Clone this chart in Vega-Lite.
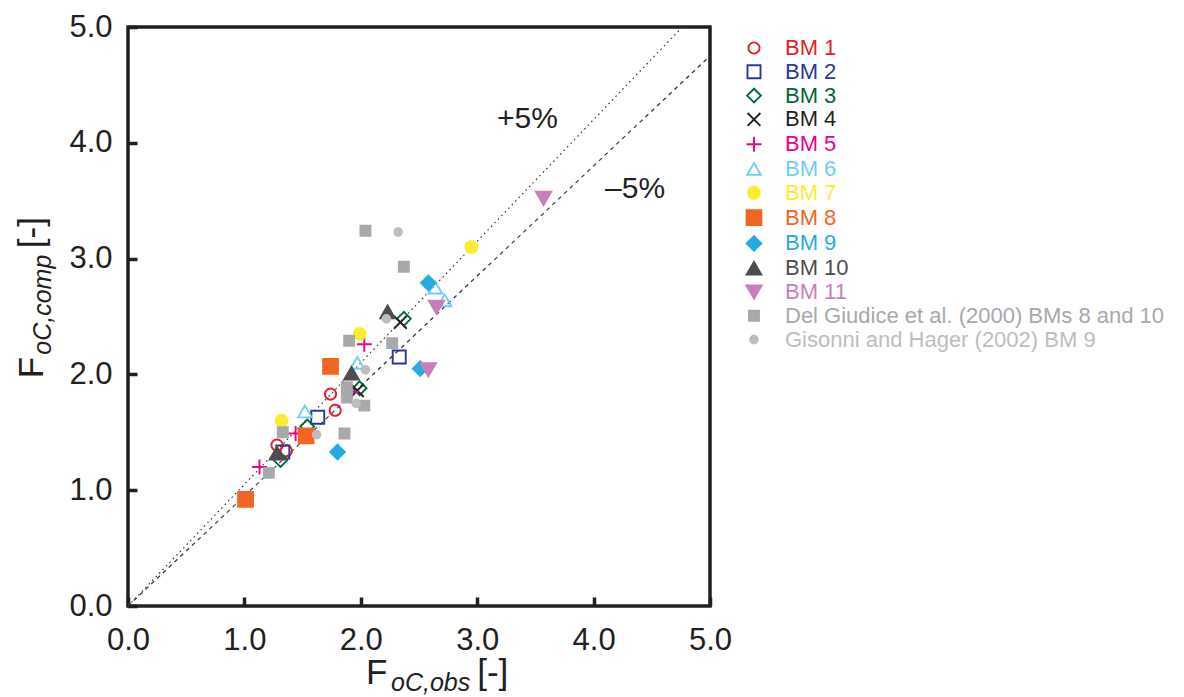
{
  "$schema": "https://vega.github.io/schema/vega-lite/v6.json",
  "autosize": {"type": "none"},
  "padding": {"left": 128, "top": 27, "right": 474, "bottom": 91},
  "width": 582,
  "height": 579,
  "background": "white",
  "config": {
    "view": {"stroke": "#231f20", "strokeWidth": 3.5},
    "font": "Liberation Sans",
    "axis": {
      "labelFont": "Liberation Sans",
      "labelFontSize": 31,
      "labelColor": "#231f20",
      "tickColor": "#231f20",
      "tickWidth": 3.5,
      "tickSize": -9,
      "domain": false,
      "grid": false,
      "labelFlush": false,
      "labelOverlap": false
    },
    "legend": {
      "orient": "none",
      "legendX": 615,
      "legendY": 10,
      "labelFont": "Liberation Sans",
      "labelFontSize": 22,
      "labelLimit": 600,
      "rowPadding": 1.8,
      "labelOffset": 20,
      "symbolStrokeWidth": 1.9,
      "padding": 0
    }
  },
  "datasets": {
    "pts": [
      {"series": "BM 1", "obs": 1.28, "comp": 1.39},
      {"series": "BM 1", "obs": 1.36, "comp": 1.34},
      {"series": "BM 1", "obs": 1.74, "comp": 1.83},
      {"series": "BM 1", "obs": 1.78, "comp": 1.69},
      {"series": "BM 2", "obs": 1.33, "comp": 1.33},
      {"series": "BM 2", "obs": 1.63, "comp": 1.63},
      {"series": "BM 2", "obs": 2.33, "comp": 2.15},
      {"series": "BM 3", "obs": 1.31, "comp": 1.26},
      {"series": "BM 3", "obs": 1.54, "comp": 1.55},
      {"series": "BM 3", "obs": 1.99, "comp": 1.88},
      {"series": "BM 3", "obs": 2.37, "comp": 2.48},
      {"series": "BM 4", "obs": 1.97, "comp": 1.86},
      {"series": "BM 4", "obs": 2.34, "comp": 2.45},
      {"series": "BM 5", "obs": 1.13, "comp": 1.2},
      {"series": "BM 5", "obs": 1.44, "comp": 1.49},
      {"series": "BM 5", "obs": 1.92, "comp": 1.85},
      {"series": "BM 5", "obs": 2.03, "comp": 2.26},
      {"series": "BM 6", "obs": 1.52, "comp": 1.68},
      {"series": "BM 6", "obs": 1.97, "comp": 2.1},
      {"series": "BM 6", "obs": 2.64, "comp": 2.75},
      {"series": "BM 6", "obs": 2.72, "comp": 2.64},
      {"series": "BM 7", "obs": 1.32, "comp": 1.6},
      {"series": "BM 7", "obs": 1.99, "comp": 2.35},
      {"series": "BM 7", "obs": 2.95, "comp": 3.1},
      {"series": "BM 8", "obs": 1.01, "comp": 0.92},
      {"series": "BM 8", "obs": 1.53, "comp": 1.47},
      {"series": "BM 8", "obs": 1.74, "comp": 2.07},
      {"series": "BM 9", "obs": 1.8, "comp": 1.33},
      {"series": "BM 9", "obs": 2.51, "comp": 2.05},
      {"series": "BM 9", "obs": 2.58, "comp": 2.79},
      {"series": "BM 10", "obs": 1.28, "comp": 1.32},
      {"series": "BM 10", "obs": 1.92, "comp": 2.01},
      {"series": "BM 10", "obs": 2.23, "comp": 2.54},
      {"series": "BM 11", "obs": 2.58, "comp": 2.04},
      {"series": "BM 11", "obs": 2.65, "comp": 2.58},
      {"series": "BM 11", "obs": 3.57, "comp": 3.52},
      {"series": "Del Giudice et al. (2000) BMs 8 and 10", "obs": 1.21, "comp": 1.15},
      {"series": "Del Giudice et al. (2000) BMs 8 and 10", "obs": 1.33, "comp": 1.5},
      {"series": "Del Giudice et al. (2000) BMs 8 and 10", "obs": 1.86, "comp": 1.49},
      {"series": "Del Giudice et al. (2000) BMs 8 and 10", "obs": 1.88, "comp": 1.8},
      {"series": "Del Giudice et al. (2000) BMs 8 and 10", "obs": 1.88, "comp": 1.89},
      {"series": "Del Giudice et al. (2000) BMs 8 and 10", "obs": 2.03, "comp": 1.73},
      {"series": "Del Giudice et al. (2000) BMs 8 and 10", "obs": 1.9, "comp": 2.29},
      {"series": "Del Giudice et al. (2000) BMs 8 and 10", "obs": 2.27, "comp": 2.27},
      {"series": "Del Giudice et al. (2000) BMs 8 and 10", "obs": 2.04, "comp": 3.24},
      {"series": "Del Giudice et al. (2000) BMs 8 and 10", "obs": 2.37, "comp": 2.93},
      {"series": "Gisonni and Hager (2002) BM 9", "obs": 1.62, "comp": 1.48},
      {"series": "Gisonni and Hager (2002) BM 9", "obs": 1.96, "comp": 1.75},
      {"series": "Gisonni and Hager (2002) BM 9", "obs": 2.04, "comp": 2.04},
      {"series": "Gisonni and Hager (2002) BM 9", "obs": 2.22, "comp": 2.48},
      {"series": "Gisonni and Hager (2002) BM 9", "obs": 2.32, "comp": 3.23}
    ],
    "plus5": [{"obs": 0, "comp": 0}, {"obs": 4.762, "comp": 5}],
    "minus5": [{"obs": 0, "comp": 0}, {"obs": 5, "comp": 4.75}],
    "one": [{}]
  },
  "layer": [
    {
      "data": {"name": "plus5"},
      "mark": {"type": "line", "stroke": "#333333", "strokeWidth": 1.2, "strokeDash": [1.5, 3.5]},
      "encoding": {
        "x": {"field": "obs", "type": "quantitative", "scale": {"domain": [0, 5], "nice": false}, "axis": {"values": [0, 1, 2, 3, 4, 5], "format": ".1f", "title": null, "labelPadding": 28}},
        "y": {"field": "comp", "type": "quantitative", "scale": {"domain": [0, 5], "nice": false}, "axis": {"values": [0, 1, 2, 3, 4, 5], "format": ".1f", "title": null, "labelPadding": 25}}
      }
    },
    {
      "data": {"name": "minus5"},
      "mark": {"type": "line", "stroke": "#333333", "strokeWidth": 1.2, "strokeDash": [4, 4]},
      "encoding": {
        "x": {"field": "obs", "type": "quantitative"},
        "y": {"field": "comp", "type": "quantitative"}
      }
    },
    {
      "data": {"name": "pts"},
      "mark": {"type": "point", "filled": true, "opacity": 1, "strokeWidth": 1.9},
      "encoding": {
        "x": {"field": "obs", "type": "quantitative"},
        "y": {"field": "comp", "type": "quantitative"},
        "stroke": {
          "field": "series", "type": "nominal",
          "scale": {
            "domain": ["BM 1", "BM 2", "BM 3", "BM 4", "BM 5", "BM 6", "BM 7", "BM 8", "BM 9", "BM 10", "BM 11", "Del Giudice et al. (2000) BMs 8 and 10", "Gisonni and Hager (2002) BM 9"],
            "range": ["#e41e26", "#2b3990", "#006838", "#231f20", "#ec008c", "#6dcff6", "#f9ed32", "#f26522", "#27aae1", "#4d4d4f", "#c77fbb", "#a7a9ac", "#bcbec0"]
          },
          "legend": {"title": null, "labelColor": {"expr": "scale('stroke', datum.value)"}}
        },
        "fill": {
          "field": "series", "type": "nominal",
          "scale": {
            "domain": ["BM 1", "BM 2", "BM 3", "BM 4", "BM 5", "BM 6", "BM 7", "BM 8", "BM 9", "BM 10", "BM 11", "Del Giudice et al. (2000) BMs 8 and 10", "Gisonni and Hager (2002) BM 9"],
            "range": ["transparent", "transparent", "transparent", "transparent", "transparent", "transparent", "#f9ed32", "#f26522", "#27aae1", "#4d4d4f", "#c77fbb", "#a7a9ac", "#bcbec0"]
          },
          "legend": {"title": null, "labelColor": {"expr": "scale('stroke', datum.value)"}}
        },
        "shape": {
          "field": "series", "type": "nominal",
          "scale": {
            "domain": ["BM 1", "BM 2", "BM 3", "BM 4", "BM 5", "BM 6", "BM 7", "BM 8", "BM 9", "BM 10", "BM 11", "Del Giudice et al. (2000) BMs 8 and 10", "Gisonni and Hager (2002) BM 9"],
            "range": ["circle", "square", "diamond", "M-1,-1L1,1M1,-1L-1,1", "M-1,0L1,0M0,-1L0,1", "triangle-up", "circle", "square", "diamond", "triangle-up", "triangle-down", "square", "circle"]
          },
          "legend": {"title": null, "labelColor": {"expr": "scale('stroke', datum.value)"}}
        },
        "size": {
          "field": "series", "type": "nominal",
          "scale": {
            "type": "ordinal",
            "domain": ["BM 1", "BM 2", "BM 3", "BM 4", "BM 5", "BM 6", "BM 7", "BM 8", "BM 9", "BM 10", "BM 11", "Del Giudice et al. (2000) BMs 8 and 10", "Gisonni and Hager (2002) BM 9"],
            "range": [125, 170, 190, 165, 225, 185, 145, 220, 215, 215, 235, 100, 60]
          },
          "legend": {"title": null, "labelColor": {"expr": "scale('stroke', datum.value)"}}
        }
      }
    },
    {
      "data": {"name": "one"},
      "mark": {"type": "text", "text": "+5%", "fontSize": 30, "align": "left", "baseline": "alphabetic", "color": "#231f20"},
      "encoding": {"x": {"datum": 3.17}, "y": {"datum": 4.127}}
    },
    {
      "data": {"name": "one"},
      "mark": {"type": "text", "text": "\u20135%", "fontSize": 30, "align": "left", "baseline": "alphabetic", "color": "#231f20"},
      "encoding": {"x": {"datum": 4.098}, "y": {"datum": 3.522}}
    },
    {
      "data": {"name": "one"},
      "mark": {"type": "text", "text": "F", "fontSize": 35, "align": "left", "baseline": "alphabetic", "color": "#231f20"},
      "encoding": {"x": {"datum": 2.045}, "y": {"datum": -0.67}}
    },
    {
      "data": {"name": "one"},
      "mark": {"type": "text", "text": "oC,obs", "fontSize": 25, "fontStyle": "italic", "align": "left", "baseline": "alphabetic", "color": "#231f20"},
      "encoding": {"x": {"datum": 2.26}, "y": {"datum": -0.73}}
    },
    {
      "data": {"name": "one"},
      "mark": {"type": "text", "text": "[-]", "fontSize": 35, "align": "left", "baseline": "alphabetic", "color": "#231f20"},
      "encoding": {"x": {"datum": 3.0}, "y": {"datum": -0.67}}
    },
    {
      "data": {"name": "one"},
      "mark": {"type": "text", "text": "F", "fontSize": 35, "angle": 270, "align": "left", "baseline": "alphabetic", "color": "#231f20"},
      "encoding": {"x": {"datum": -0.73}, "y": {"datum": 1.966}}
    },
    {
      "data": {"name": "one"},
      "mark": {"type": "text", "text": "oC,comp", "fontSize": 25, "fontStyle": "italic", "angle": 270, "align": "left", "baseline": "alphabetic", "color": "#231f20"},
      "encoding": {"x": {"datum": -0.665}, "y": {"datum": 2.17}}
    },
    {
      "data": {"name": "one"},
      "mark": {"type": "text", "text": "[-]", "fontSize": 35, "angle": 270, "align": "left", "baseline": "alphabetic", "color": "#231f20"},
      "encoding": {"x": {"datum": -0.73}, "y": {"datum": 3.09}}
    }
  ]
}
